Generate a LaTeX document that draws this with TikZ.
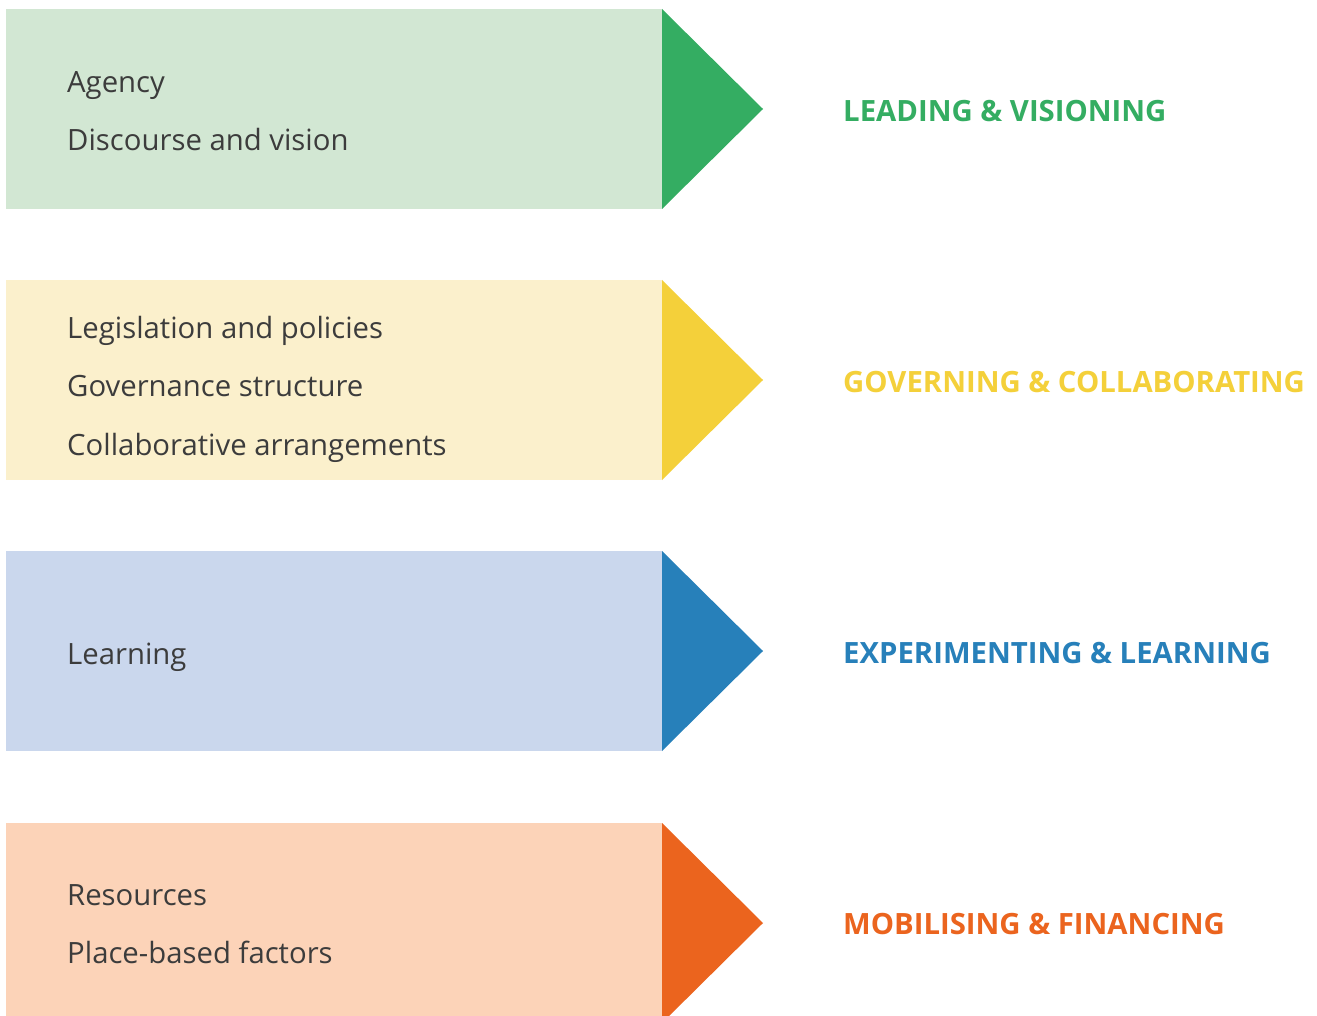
\documentclass[tikz,border=0pt]{standalone}
\usepackage{fontspec}
\setmainfont{Open Sans}
\definecolor{gLight}{HTML}{D2E7D3}
\definecolor{gDark}{HTML}{34AD62}
\definecolor{yLight}{HTML}{FBF0CC}
\definecolor{yDark}{HTML}{F4D03A}
\definecolor{bLight}{HTML}{CAD7ED}
\definecolor{bDark}{HTML}{2780BA}
\definecolor{oLight}{HTML}{FCD3B8}
\definecolor{oDark}{HTML}{EB641E}
\definecolor{txt}{HTML}{3C3C3C}
\tikzset{
  panel/.style={rectangle, inner sep=0pt, outer sep=0pt, anchor=north west,
    minimum width=656pt, minimum height=200pt, draw=none},
  item/.style={anchor=base west, inner sep=0pt, text=txt,
    font=\fontsize{29.3}{34}\selectfont},
  outcome/.style={anchor=west, inner sep=0pt,
    font=\bfseries\fontsize{29.3}{34}\selectfont},
}
\begin{document}
\begin{tikzpicture}[x=1pt,y=-1pt]
\clip (0,0) rectangle (1317,1016);
\fill[white] (0,0) rectangle (1317,1016);
% row 1
\node[panel, fill=gLight] (p1) at (6,9) {};
\fill[gDark] (p1.north east) -- ([xshift=101pt]p1.east) -- (p1.south east) -- cycle;
\node[item] (a1) at (67,93) {Agency};
\node[item] (a2) at (67,151) {Discourse and vision};
\node[outcome, text=gDark] (o1) at (843,111) {LEADING \& VISIONING};
% row 2
\node[panel, fill=yLight] (p2) at (6,280) {};
\fill[yDark] (p2.north east) -- ([xshift=101pt]p2.east) -- (p2.south east) -- cycle;
\node[item] (b1) at (67,338) {Legislation and policies};
\node[item] (b2) at (67,396) {Governance structure};
\node[item] (b3) at (67,455) {Collaborative arrangements};
\node[outcome, text=yDark] (o2) at (843,382) {GOVERNING \& COLLABORATING};
% row 3
\node[panel, fill=bLight] (p3) at (6,551) {};
\fill[bDark] (p3.north east) -- ([xshift=101pt]p3.east) -- (p3.south east) -- cycle;
\node[item] (c1) at (67,664) {Learning};
\node[outcome, text=bDark] (o3) at (843,653) {EXPERIMENTING \& LEARNING};
% row 4
\node[panel, fill=oLight] (p4) at (6,823) {};
\fill[oDark] (p4.north east) -- ([xshift=101pt]p4.east) -- (p4.south east) -- cycle;
\node[item] (d1) at (67,905) {Resources};
\node[item] (d2) at (67,963) {Place-based factors};
\node[outcome, text=oDark] (o4) at (843,924) {MOBILISING \& FINANCING};
\end{tikzpicture}
\end{document}
